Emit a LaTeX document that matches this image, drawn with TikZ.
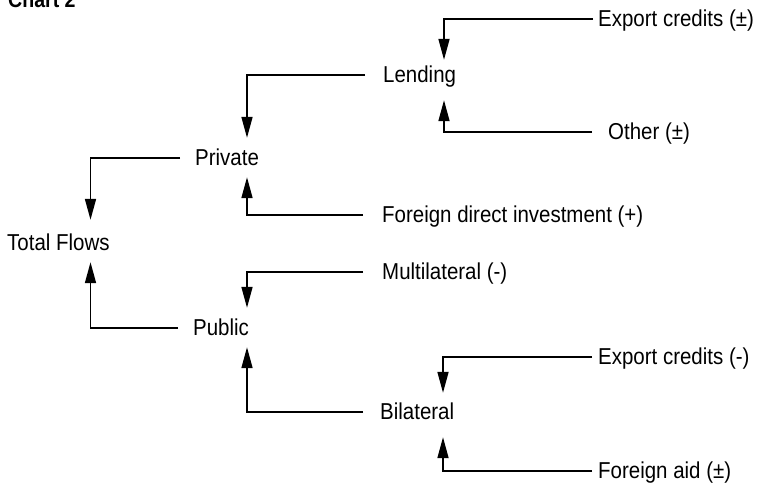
\documentclass[tikz,border=0pt]{standalone}
\usepackage{fontspec}
\setmainfont[FakeStretch=0.89]{Liberation Sans}
\usetikzlibrary{arrows.meta,calc}
\tikzset{
  lbl/.style={anchor=west, inner sep=0pt, text height=15pt, text depth=0pt,
    font=\fontsize{23}{26}\selectfont},
  conn/.style={line width=1.7pt, -{Triangle[length=21pt,width=11pt]}}
}
\begin{document}
\begin{tikzpicture}[x=1pt,y=-1pt]
\useasboundingbox (0,0) rectangle (773,483);
\node[anchor=base west, inner sep=0pt, font=\fontsize{22}{26}\selectfont\bfseries] (title) at (8,7) {Chart 2};
\node[lbl] (ec1)  at (598,19)  {Export credits (±)};
\node[lbl] (lend) at (383,75)  {Lending};
\node[lbl] (oth)  at (608,132) {Other (±)};
\node[lbl] (priv) at (195,158) {Private};
\node[lbl] (fdi)  at (382,215) {Foreign direct investment (+)};
\node[lbl] (tot)  at (7,243)   {Total Flows};
\node[lbl] (mult) at (382,272) {Multilateral (-)};
\node[lbl] (pub)  at (193,328) {Public};
\node[lbl] (ec2)  at (598,357) {Export credits (-)};
\node[lbl] (bil)  at (380,412) {Bilateral};
\node[lbl] (fa)   at (598,471) {Foreign aid (±)};

\draw[conn] ($(ec1.west)+(-5,0)$)   -| ($(lend.north west)+(61,-7.5)$);
\draw[conn] ($(oth.west)+(-16,0)$)  -| ($(lend.south west)+(61,17.5)$);
\draw[conn] ($(lend.west)+(-18,0)$) -| ($(priv.north west)+(52,-12.5)$);
\draw[conn] ($(fdi.west)+(-19,0)$)  -| ($(priv.south west)+(52,11.5)$);
\draw[conn] ($(priv.west)+(-15,0)$) -| ($(tot.north west)+(83.5,-15.5)$);
\draw[conn] ($(pub.west)+(-15,0)$)  -| ($(tot.south west)+(83.5,11.5)$);
\draw[conn] ($(mult.west)+(-19,0)$) -| ($(pub.north west)+(54,-12.5)$);
\draw[conn] ($(bil.west)+(-17,0)$)  -| ($(pub.south west)+(54,11.5)$);
\draw[conn] ($(ec2.west)+(-6,0)$)   -| ($(bil.north west)+(63,-11.5)$);
\draw[conn] ($(fa.west)+(-6,0)$)    -| ($(bil.south west)+(63,17.5)$);
\end{tikzpicture}
\end{document}
